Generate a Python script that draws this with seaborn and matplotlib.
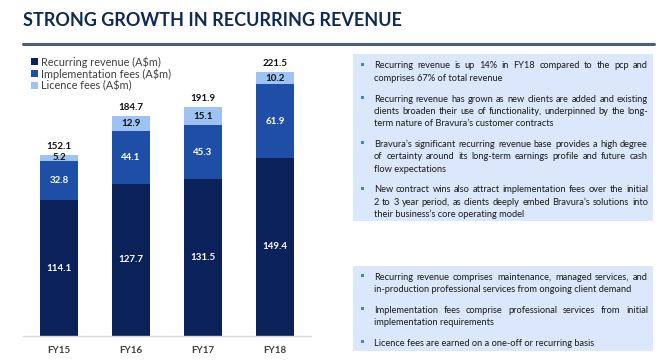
import matplotlib
matplotlib.use("Agg")
import matplotlib.pyplot as plt
import seaborn as sns
import pandas as pd
from matplotlib.patches import Rectangle

years = ["FY15", "FY16", "FY17", "FY18"]
recurring = [114.1, 127.7, 131.5, 149.4]
implementation = [32.8, 44.1, 45.3, 61.9]
licence = [5.2, 12.9, 15.1, 10.2]
totals = [152.1, 184.7, 191.9, 221.5]
series_names = ["Recurring revenue (A$m)", "Implementation fees (A$m)", "Licence fees (A$m)"]

bullets_top = [
    ["Recurring revenue is up 14% in FY18 compared to the pcp and",
     "comprises 67% of total revenue"],
    ["Recurring revenue has grown as new clients are added and existing",
     "clients broaden their use of functionality, underpinned by the long-",
     "term nature of Bravura\u2019s customer contracts"],
    ["Bravura\u2019s significant recurring revenue base provides a high degree",
     "of certainty around its long-term earnings profile and future cash",
     "flow expectations"],
    ["New contract wins also attract implementation fees over the initial",
     "2 to 3 year period, as clients deeply embed Bravura\u2019s solutions into",
     "their business\u2019s core operating model"],
]
bullets_bottom = [
    ["Recurring revenue comprises maintenance, managed services, and",
     "in-production professional services from ongoing client demand"],
    ["Implementation fees comprise professional services from initial",
     "implementation requirements"],
    ["Licence fees are earned on a one-off or recurring basis"],
]

C_REC = "#0b215a"
C_IMP = "#1f4ea6"
C_LIC = "#9cc3f3"
NAVY = "#0f2a55"
BOX = "#dbe8fb"
TXT = "#1a1a1a"

sns.set_theme(style="white")
plt.rcParams["font.family"] = ["Lato", "DejaVu Sans"]

W, H = 663, 364
fig = plt.figure(figsize=(W / 100, H / 100), dpi=100)
renderer = fig.canvas.get_renderer()

def fx(px):
    return px / W

def fy(py):
    return 1 - py / H

# Title and rule
fig.text(fx(23), fy(21), "STRONG GROWTH IN RECURRING REVENUE", fontsize=13.0,
         fontweight="bold", color=NAVY, va="center", ha="left")
fig.add_artist(plt.Line2D([fx(23), fx(654)], [fy(44), fy(44)], color="#4a5f80", lw=2.2))

# Chart axes
ax_left, ax_right = 23, 311
base_y = 336
ymax = 250
px_per_unit = 264 / 221.5
top_px = base_y - ymax * px_per_unit
ax = fig.add_axes([fx(ax_left), fy(base_y), fx(ax_right - ax_left), (base_y - top_px) / H])

df = pd.DataFrame({"year": years, "rec": recurring, "imp": implementation, "lic": licence})
df["cum2"] = df["rec"] + df["imp"]
df["cum3"] = df["cum2"] + df["lic"]

bw = 38 / 72
sns.barplot(data=df, x="year", y="cum3", color=C_LIC, width=bw, saturation=1, ax=ax,
            label=series_names[2], linewidth=0)
sns.barplot(data=df, x="year", y="cum2", color=C_IMP, width=bw, saturation=1, ax=ax,
            label=series_names[1], linewidth=0)
sns.barplot(data=df, x="year", y="rec", color=C_REC, width=bw, saturation=1, ax=ax,
            label=series_names[0], linewidth=0)

for i in range(len(years)):
    r, im, li = recurring[i], implementation[i], licence[i]
    ax.text(i, r / 2, f"{r:.1f}", ha="center", va="center", color="white", fontsize=7, fontweight="bold")
    ax.text(i, r + im / 2, f"{im:.1f}", ha="center", va="center", color="white", fontsize=7, fontweight="bold")
    ax.text(i, r + im + li / 2, f"{li:.1f}", ha="center", va="center", color="#111111", fontsize=7, fontweight="bold")
    ax.text(i, r + im + li + 7, f"{totals[i]:.1f}", ha="center", va="center", color="#111111", fontsize=7, fontweight="bold")

ax.set_xlim(-0.5, 3.5)
ax.set_ylim(0, ymax)
ax.set_xlabel("")
ax.set_ylabel("")
ax.set_yticks([])
for s in ["top", "right", "left"]:
    ax.spines[s].set_visible(False)
ax.spines["bottom"].set_color("#d9d9d9")
ax.spines["bottom"].set_linewidth(1)
ax.tick_params(axis="x", length=0, pad=7, labelsize=7, labelcolor="#404040")
for t in ax.get_xticklabels():
    t.set_fontweight("bold")

handles, labels = ax.get_legend_handles_labels()
order = [labels.index(n) for n in series_names]
leg = ax.legend([handles[k] for k in order], [labels[k] for k in order],
                loc="upper left", bbox_to_anchor=(fx(31), fy(56)), bbox_transform=fig.transFigure,
                frameon=False, fontsize=7.8, handlelength=0.65, handleheight=0.65,
                handletextpad=0.3, labelspacing=0.05, borderaxespad=0, borderpad=0)
for t in leg.get_texts():
    t.set_color("#404040")

# Text boxes with justified text
TEXT_X0, TEXT_X1 = 374, 648

def word_w(word, fs):
    t = fig.text(0, 0, word, fontsize=fs)
    w = t.get_window_extent(renderer).width
    t.remove()
    return w

all_lines = [ln for p in bullets_top + bullets_bottom for ln in p]
ref_fs = 10
max_w = max(word_w(ln, ref_fs) for ln in all_lines)
FS = ref_fs * (TEXT_X1 - TEXT_X0) / max_w * 0.995

def draw_line(text, y, justify):
    words = text.split(" ")
    if not justify or len(words) == 1:
        fig.text(fx(TEXT_X0), fy(y), text, fontsize=FS, color=TXT, va="baseline", ha="left")
        return
    widths = [word_w(w, FS) for w in words]
    gap = (TEXT_X1 - TEXT_X0 - sum(widths)) / (len(words) - 1)
    x = TEXT_X0
    for w, wd in zip(words, widths):
        fig.text(fx(x), fy(y), w, fontsize=FS, color=TXT, va="baseline", ha="left")
        x += wd + gap

def draw_box(x0, y0, x1, y1, items, first_base, gap):
    fig.add_artist(Rectangle((fx(x0), fy(y1)), fx(x1 - x0), (y1 - y0) / H,
                             facecolor=BOX, edgecolor="none", transform=fig.transFigure))
    y = first_base
    line_h = 12.2
    for para in items:
        fig.add_artist(Rectangle((fx(361), fy(y - 3)), fx(3), 3 / H, facecolor="#4a7fd0",
                                 edgecolor="none", transform=fig.transFigure))
        for k, ln in enumerate(para):
            draw_line(ln, y, justify=(k < len(para) - 1))
            y += line_h
        y += gap

draw_box(353, 54, 653, 221, bullets_top, 68.5, 8.8)
draw_box(353, 266, 653, 351, bullets_bottom, 279.5, 8.8)

fig.savefig("out.png", dpi=100)
